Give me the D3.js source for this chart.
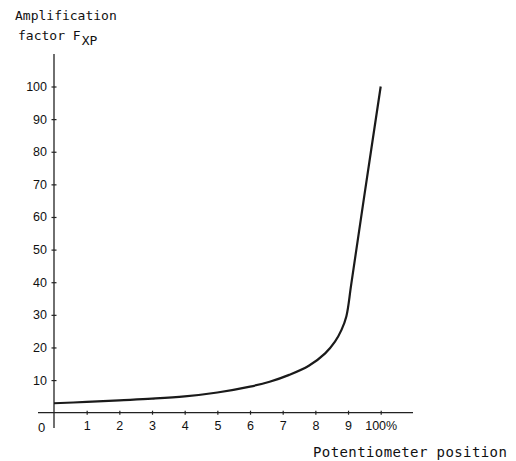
<!DOCTYPE html>
<html>
<head>
<meta charset="utf-8">
<script src="https://cdn.jsdelivr.net/npm/d3@7"></script>
<style>
  body { margin: 0; background: #fff; }
  text { fill: #111; }
</style>
</head>
<body>
<div id="chart"></div>
<script>
// Curve: potentiometer position (tenths) vs F_XP
const positions = [0, 1, 2, 3, 4, 5, 6, 6.6, 7.2, 7.8, 8.3, 8.6, 8.8, 8.95, 9.1, 9.5, 10];
const factors   = [2.9, 3.3, 3.8, 4.3, 5.0, 6.2, 8.0, 9.5, 11.6, 14.4, 18.2, 21.8, 25.4, 29.6, 39.5, 66.6, 100];

const xTicks = [1, 2, 3, 4, 5, 6, 7, 8, 9, 10];
const xTickLabels = ['1', '2', '3', '4', '5', '6', '7', '8', '9', '100%'];
const yTicks = [10, 20, 30, 40, 50, 60, 70, 80, 90, 100];

const width = 516, height = 461;

let svg = d3.select('#chart')
    .append('svg')
    .attr('width', width)
    .attr('height', height);

// Scales
let x = d3.scaleLinear().domain([0, 10]).range([54, 380.7]);
let y = d3.scaleLinear().domain([0, 100]).range([412.7, 86.5]);

// Axis lines (they overshoot the origin like the drawing)
svg.append('line')
    .attr('x1', x(0)).attr('x2', x(0))
    .attr('y1', 54).attr('y2', 428)
    .attr('stroke', '#222').attr('stroke-width', 1.3);

svg.append('line')
    .attr('x1', 38).attr('x2', 413)
    .attr('y1', y(0)).attr('y2', y(0))
    .attr('stroke', '#222').attr('stroke-width', 1.3);

// Y ticks + labels
let yAxis = svg.append('g').attr('transform', 'translate(' + x(0) + ',0)')
    .call(d3.axisLeft(y).tickValues(yTicks).tickSize(0).tickPadding(7));
yAxis.select('.domain').remove();
yAxis.selectAll('text')
    .attr('font-family', 'Liberation Sans')
    .attr('font-size', 12.5)
    .attr('fill', '#111');
yAxis.selectAll('.tick').append('line')
    .attr('x1', -2.5).attr('x2', 2.5)
    .attr('stroke', '#222').attr('stroke-width', 1.2);

// X ticks + labels
let xAxis = svg.append('g').attr('transform', 'translate(0,' + y(0) + ')')
    .call(d3.axisBottom(x).tickValues(xTicks)
        .tickFormat(function(d, i) { return xTickLabels[i]; })
        .tickSize(0).tickPadding(8));
xAxis.select('.domain').remove();
xAxis.selectAll('text')
    .attr('font-family', 'Liberation Sans')
    .attr('font-size', 12.5)
    .attr('fill', '#111');
xAxis.selectAll('.tick').append('line')
    .attr('y1', -2).attr('y2', 2)
    .attr('stroke', '#222').attr('stroke-width', 1.2);

// origin label
svg.append('text')
    .attr('x', 41.7).attr('y', y(0) + 19)
    .attr('text-anchor', 'middle')
    .attr('font-family', 'Liberation Sans')
    .attr('font-size', 13)
    .text('0');

// The curve
let data = positions.map(function(p, i) { return { p: p, f: factors[i] }; });
let line = d3.line()
    .x(function(d) { return x(d.p); })
    .y(function(d) { return y(d.f); })
    .curve(d3.curveCatmullRom.alpha(0.5));

svg.append('path')
    .datum(data)
    .attr('d', line)
    .attr('fill', 'none')
    .attr('stroke', '#1a1a1a')
    .attr('stroke-width', 2.2);

// Axis titles
svg.append('text')
    .attr('x', 15).attr('y', 20)
    .attr('font-family', 'DejaVu Sans Mono')
    .attr('font-size', 13)
    .text('Amplification');

let t = svg.append('text')
    .attr('x', 18).attr('y', 40)
    .attr('font-family', 'DejaVu Sans Mono')
    .attr('font-size', 13);
t.append('tspan').text('factor F');
t.append('tspan').attr('dy', 5).attr('dx', 1).text('XP');

svg.append('text')
    .attr('x', 313).attr('y', 457)
    .attr('font-family', 'DejaVu Sans Mono')
    .attr('font-size', 14)
    .attr('letter-spacing', 0.4)
    .text('Potentiometer position');
</script>
</body>
</html>
